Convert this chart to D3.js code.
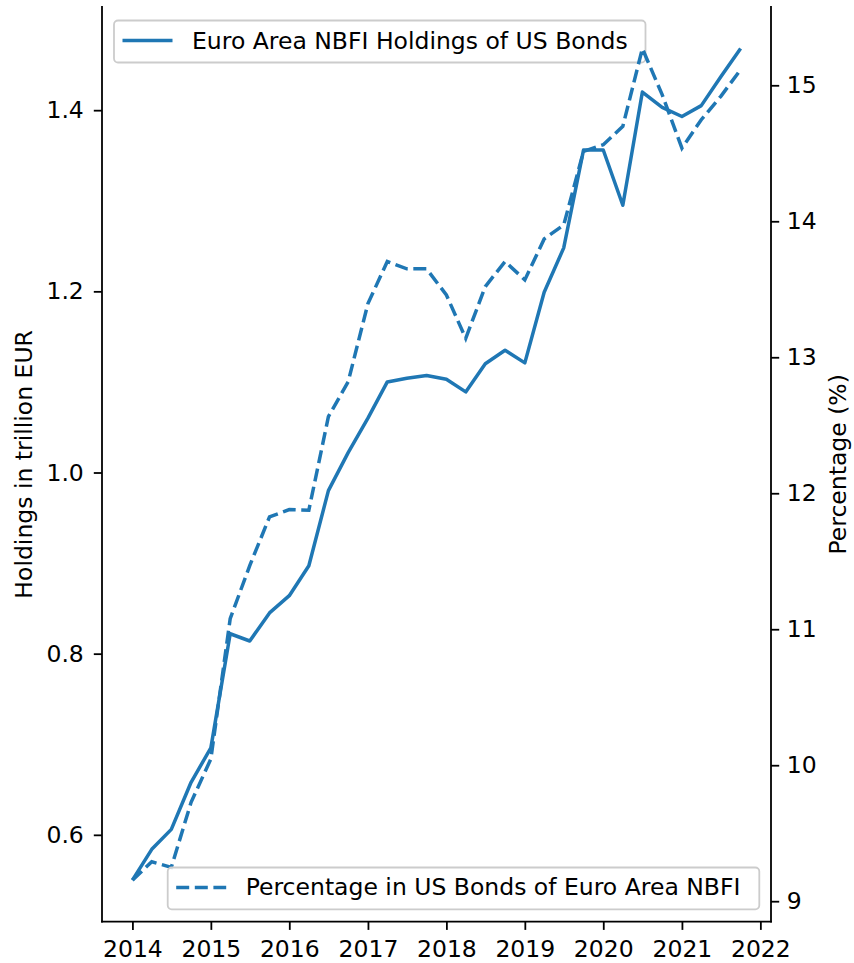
<!DOCTYPE html>
<html>
<head>
<meta charset="utf-8">
<script src="https://cdn.jsdelivr.net/npm/d3@7.9.0/dist/d3.min.js"></script>
<style>
  body { margin: 0; background: #fff; }
  svg { display: block; font-family: "DejaVu Sans", sans-serif; }
</style>
</head>
<body>
<div id="chart"></div>
<script>
// quarterly observations, 2014Q1 .. 2021Q4
const quarters = d3.range(32).map(i => new Date(Date.UTC(2014 + Math.floor(i / 4), (i % 4) * 3, 1)));

// holdings in trillion EUR (left axis)
const holdings = [
    0.550, 0.584, 0.606, 0.658, 0.696, 0.822, 0.814, 0.845,
    0.864, 0.897, 0.980, 1.022, 1.060, 1.100, 1.104, 1.107,
    1.103, 1.089, 1.120, 1.135, 1.121, 1.199, 1.248, 1.356,
    1.356, 1.295, 1.420, 1.403, 1.393, 1.405, 1.437, 1.468
];

// share of US bonds in portfolio, % (right axis)
const percentage = [
    9.155, 9.290, 9.249, 9.727, 10.046, 11.077, 11.468, 11.826,
    11.880, 11.875, 12.563, 12.820, 13.395, 13.704, 13.650, 13.650,
    13.458, 13.139, 13.520, 13.704, 13.569, 13.870, 13.973, 14.514,
    14.563, 14.698, 15.270, 14.931, 14.538, 14.747, 14.919, 15.115
];

const yearTicks = d3.range(2014, 2023).map(y => new Date(Date.UTC(y, 0, 1)));
const leftTicks = [0.6, 0.8, 1.0, 1.2, 1.4];
const rightTicks = [9, 10, 11, 12, 13, 14, 15];

const labelHoldings = 'Euro Area NBFI Holdings of US Bonds';
const labelPercentage = 'Percentage in US Bonds of Euro Area NBFI';

const width = 854;
const height = 963;
const fontSize = 23.5;
const blue = '#1f77b4';
const lw = 3.5;
const dash = '13,5.6';

const area = { left: 102, right: 771, top: 7, bottom: 921.7 };

// matplotlib-like 5% margins
function padded(lo, hi) {
    const m = (hi - lo) * 0.05;
    return [lo - m, hi + m];
}

const tExt = d3.extent(quarters, d => +d);
const xDom = padded(tExt[0], tExt[1]);
const x = d3.scaleUtc()
    .domain([new Date(xDom[0]), new Date(xDom[1])])
    .range([area.left, area.right]);

const yL = d3.scaleLinear()
    .domain(padded(d3.min(holdings), d3.max(holdings)))
    .range([area.bottom, area.top]);

const yR = d3.scaleLinear()
    .domain(padded(d3.min(percentage), d3.max(percentage)))
    .range([area.bottom, area.top]);

const svg = d3.select('#chart')
    .append('svg')
    .attr('width', width)
    .attr('height', height);

const tickLen = 8.2;

// x axis
const xAxis = svg.append('g')
    .attr('transform', `translate(0, ${area.bottom})`)
    .call(d3.axisBottom(x).tickValues(yearTicks).tickFormat(d3.utcFormat('%Y')).tickSize(tickLen).tickPadding(10));

// left axis
const leftAxis = svg.append('g')
    .attr('transform', `translate(${area.left}, 0)`)
    .call(d3.axisLeft(yL).tickValues(leftTicks).tickFormat(d3.format('.1f')).tickSize(tickLen).tickPadding(10));

// right axis
const rightAxis = svg.append('g')
    .attr('transform', `translate(${area.right}, 0)`)
    .call(d3.axisRight(yR).tickValues(rightTicks).tickFormat(d3.format('d')).tickSize(tickLen).tickPadding(7.5));

[xAxis, leftAxis, rightAxis].forEach(g => {
    g.select('.domain').remove();
    g.selectAll('.tick line').attr('stroke', '#000').attr('stroke-width', 1.8);
    g.selectAll('.tick text')
        .attr('fill', '#000')
        .attr('font-size', fontSize)
        .attr('font-family', '"DejaVu Sans", sans-serif');
});

// spines (no top spine)
const spines = svg.append('g').attr('stroke', '#000').attr('stroke-width', 1.8).attr('stroke-linecap', 'square');
spines.append('line').attr('x1', area.left).attr('x2', area.left).attr('y1', area.top).attr('y2', area.bottom);
spines.append('line').attr('x1', area.right).attr('x2', area.right).attr('y1', area.top).attr('y2', area.bottom);
spines.append('line').attr('x1', area.left).attr('x2', area.right).attr('y1', area.bottom).attr('y2', area.bottom);

// axis titles
svg.append('text')
    .attr('transform', `translate(24, ${(area.top + area.bottom) / 2}) rotate(-90)`)
    .attr('text-anchor', 'middle')
    .attr('dominant-baseline', 'central')
    .attr('font-size', fontSize)
    .text('Holdings in trillion EUR');

svg.append('text')
    .attr('transform', `translate(838, ${(area.top + area.bottom) / 2}) rotate(-90)`)
    .attr('text-anchor', 'middle')
    .attr('dominant-baseline', 'central')
    .attr('font-size', fontSize)
    .text('Percentage (%)');

// legend helper
function legend(box, dashed, label) {
    const g = svg.append('g');
    g.append('rect')
        .attr('x', box.x).attr('y', box.y)
        .attr('width', box.w).attr('height', box.h)
        .attr('rx', 4)
        .attr('fill', 'rgba(255,255,255,0.8)')
        .attr('stroke', '#cccccc')
        .attr('stroke-width', 1.8);
    g.append('line')
        .attr('x1', box.x + 8.5).attr('x2', box.x + 58.5)
        .attr('y1', box.y + box.h / 2 - 1).attr('y2', box.y + box.h / 2 - 1)
        .attr('stroke', blue)
        .attr('stroke-width', lw)
        .attr('stroke-dasharray', dashed ? dash : null);
    g.append('text')
        .attr('x', box.x + 78)
        .attr('y', box.y + box.h / 2 + 7)
        .attr('font-size', fontSize)
        .attr('fill', '#000')
        .text(label);
}

const line = yScale => d3.line()
    .x((d, i) => x(quarters[i]))
    .y(d => yScale(d));

// first axes: solid line + its legend
svg.append('path')
    .datum(holdings)
    .attr('fill', 'none')
    .attr('stroke', blue)
    .attr('stroke-width', lw)
    .attr('stroke-linejoin', 'round')
    .attr('d', line(yL));

legend({ x: 114, y: 20.5, w: 531.5, h: 42 }, false, labelHoldings);

// twin axes: dashed line + its legend
svg.append('path')
    .datum(percentage)
    .attr('fill', 'none')
    .attr('stroke', blue)
    .attr('stroke-width', lw)
    .attr('stroke-dasharray', dash)
    .attr('d', line(yR));

legend({ x: 167.7, y: 867.5, w: 591.6, h: 41.8 }, true, labelPercentage);
</script>
</body>
</html>
